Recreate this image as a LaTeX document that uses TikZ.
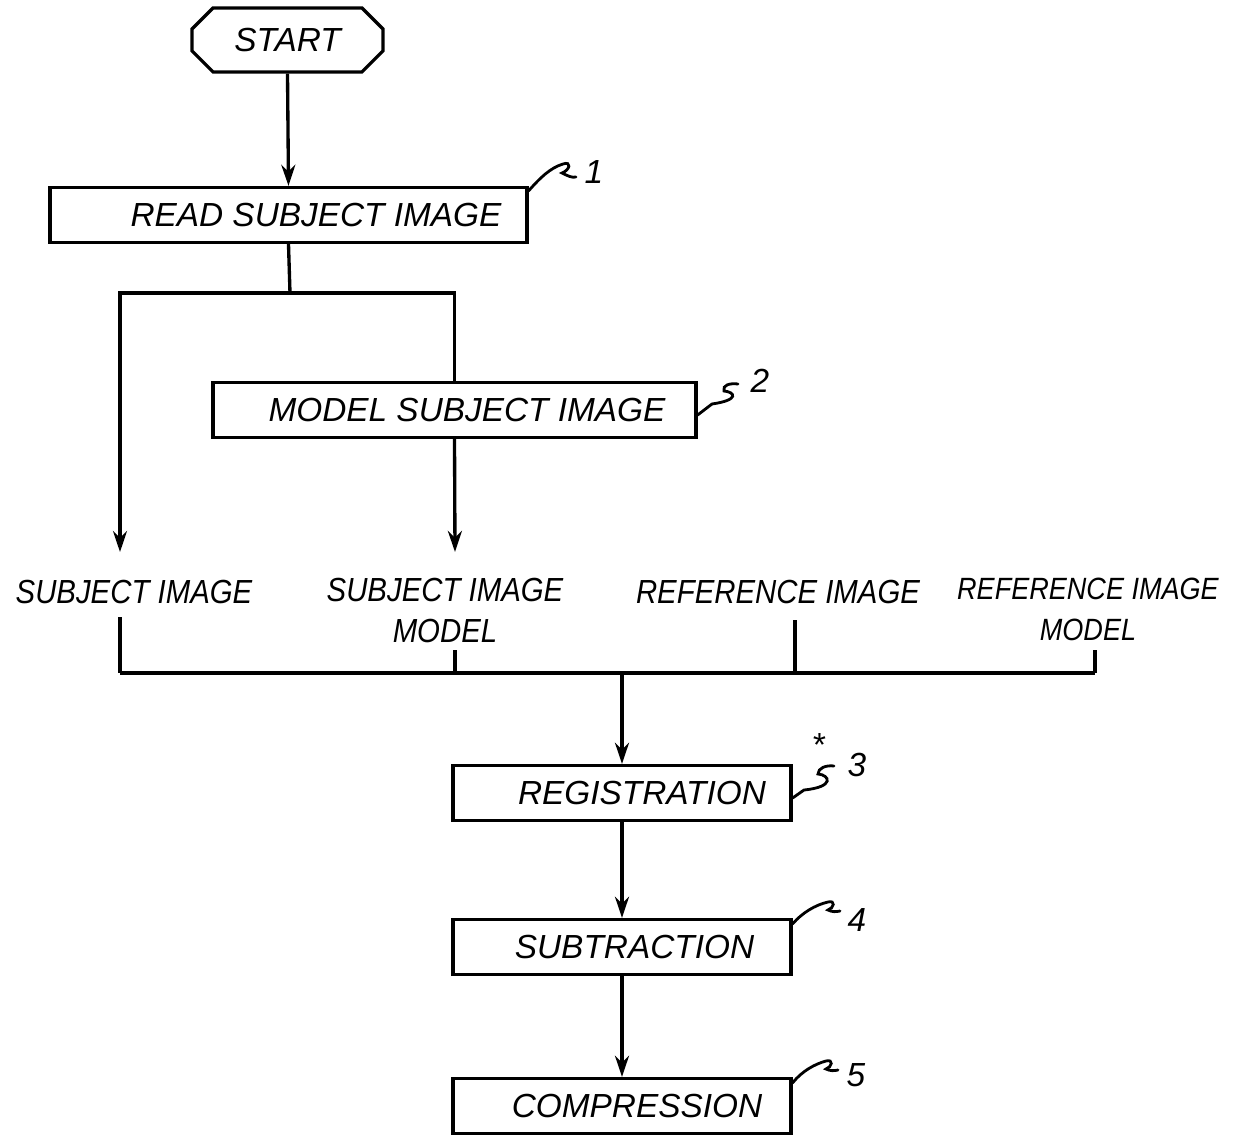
\documentclass[tikz,border=0pt]{standalone}
\usepackage{fontspec}
\setmainfont{Liberation Sans}
\newfontfamily\narrowfam[FakeStretch=0.88]{Liberation Sans}
\usetikzlibrary{arrows.meta,shapes.misc}
\begin{document}
\begin{tikzpicture}[x=0.02cm,y=-0.02cm,
  every node/.style={font=\fontsize{19}{24}\selectfont\itshape},
  box/.style={draw,line width=1.9pt,minimum height=1.1cm,inner sep=0pt},
  conn/.style={line width=1.9pt},
  arr/.style={conn,-{Stealth[length=12pt,width=8pt]}},
  lead/.style={line width=1.6pt,line cap=round},
  lbl/.style={inner sep=0pt,align=center},
  rowlbl/.style={lbl,font=\narrowfam\fontsize{19}{23}\selectfont\itshape}]
\useasboundingbox (0,0) rectangle (1242,1138);
% boxes
\node[draw,line width=1.9pt,chamfered rectangle,chamfered rectangle xsep=6pt,chamfered rectangle ysep=6pt,
      minimum width=3.82cm,minimum height=1.28cm,inner sep=0pt] (start) at (287.5,40) {START};
\node[box,minimum width=9.54cm] (read) at (288.5,215) {\hspace*{1.1cm}READ SUBJECT IMAGE};
\node[box,minimum width=9.66cm] (model) at (454.5,410) {\hspace*{0.5cm}MODEL SUBJECT IMAGE};
\node[box,minimum width=6.76cm] (reg) at (622,793) {\hspace*{0.8cm}REGISTRATION};
\node[box,minimum width=6.76cm] (sub) at (622,947) {\hspace*{0.5cm}SUBTRACTION};
\node[box,minimum width=6.76cm] (comp) at (622,1106) {\hspace*{0.6cm}COMPRESSION};
% data labels
\node[rowlbl] (t1) at (134,592) {SUBJECT IMAGE};
\node[rowlbl,anchor=north] (t2) at (445,578) {SUBJECT IMAGE\\MODEL};
\node[rowlbl] (t3) at (778,592) {REFERENCE IMAGE};
\node[rowlbl,anchor=north,font=\narrowfam\fontsize{17.5}{23}\selectfont\itshape] (t4) at (1088,578) {REFERENCE IMAGE\\MODEL};
% coordinates
\coordinate (sp) at (290,293);
\coordinate (a1) at (120,552);
\coordinate (a2) at (455,552);
\coordinate (b1) at (120,673);
\coordinate (b2) at (455,673);
\coordinate (b3) at (795,673);
\coordinate (b4) at (1095,673);
\coordinate (bc) at (622,673);
% connectors
\draw[arr] (start.south) -- (read.north);
\draw[conn] (read.south) -- (sp);
\draw[arr] (sp) -| (a1);
\draw[conn] (sp) -| (model.north);
\draw[arr] (model.south) -- (a2);
\draw[conn] (b1) -- (b4);
\draw[conn] (b1) -- ++(0,-56);
\draw[conn] (b2) -- ++(0,-23);
\draw[conn] (b3) -- ++(0,-53);
\draw[conn] (b4) -- ++(0,-23);
\draw[arr] (bc) -- (reg.north);
\draw[arr] (reg.south) -- (sub.north);
\draw[arr] (sub.south) -- (comp.north);
% reference numerals with leaders
\draw[lead] ([yshift=-0.1cm]read.north east) .. controls (540,178) and (550,168) .. (563,164)
   .. controls (572,161) and (570,170) .. (562,173) .. controls (568,176) and (572,178) .. (576,177);
\node[lbl] (n1) at (594,172) {1};
\draw[lead] ([yshift=-0.1cm]model.east) -- (712,404) .. controls (740,400) and (735,392) .. (724,391)
   .. controls (722,385) and (730,383) .. (738,384);
\node[lbl] (n2) at (760,381) {2};
\draw[lead] ([yshift=-0.1cm]reg.east) -- (804,790) .. controls (835,787) and (830,775) .. (818,774)
   .. controls (818,768) and (826,765) .. (834,766);
\node[lbl] (n3) at (857,765) {3};
\node[lbl] (ast) at (818,745) {*};
\draw[lead] ([yshift=-0.12cm]sub.north east) .. controls (802,913) and (815,905) .. (828,902)
   .. controls (836,900) and (834,908) .. (828,910) .. controls (832,912) and (836,912) .. (840,911);
\node[lbl] (n4) at (857,920) {4};
\draw[lead] ([yshift=-0.12cm]comp.north east) .. controls (802,1071) and (815,1064) .. (826,1061)
   .. controls (834,1059) and (832,1067) .. (826,1069) .. controls (830,1071) and (834,1071) .. (838,1070);
\node[lbl] (n5) at (856,1075) {5};
\end{tikzpicture}
\end{document}
